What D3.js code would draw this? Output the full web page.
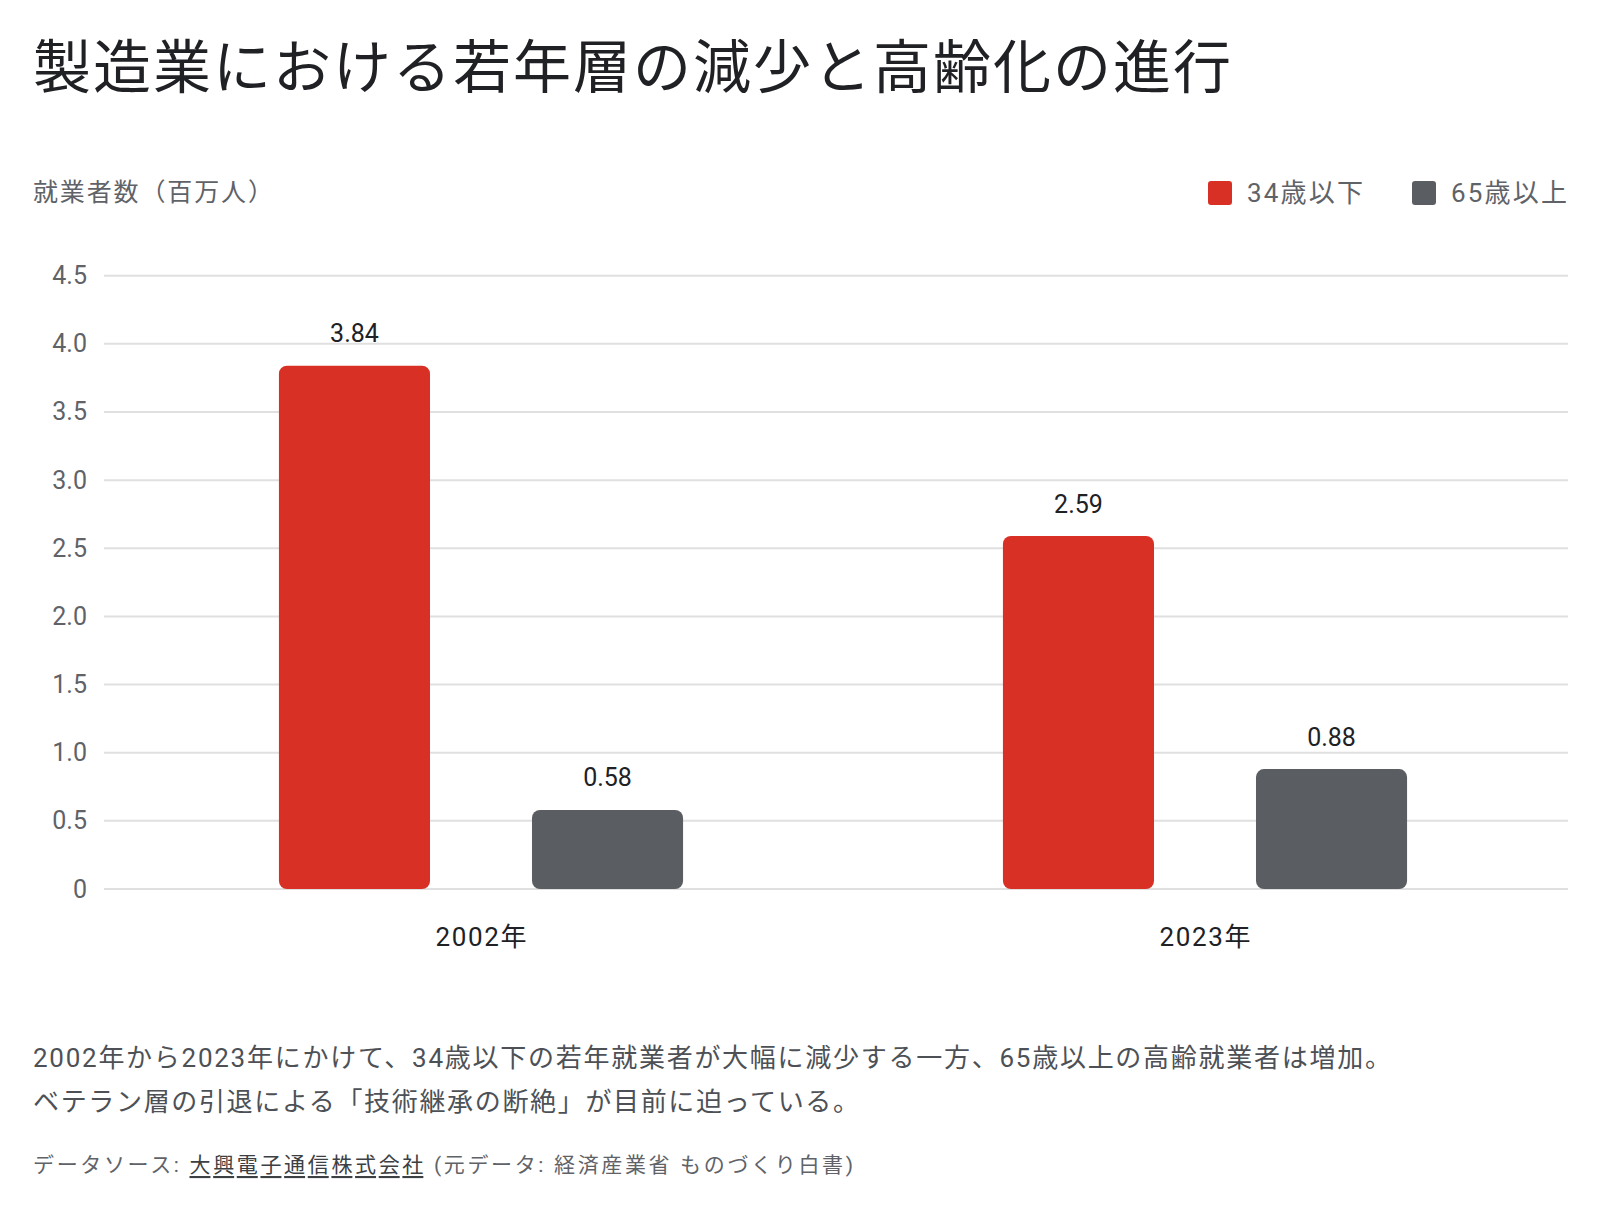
<!DOCTYPE html>
<html>
<head>
<meta charset="utf-8">
<script src="https://cdn.jsdelivr.net/npm/d3@7"></script>
<style>
  body { margin: 0; background: #fff; }
  svg text { font-family: Roboto, "Noto Sans CJK JP", sans-serif; }
</style>
</head>
<body>
<svg id="chart" width="1600" height="1214"></svg>
<script>
// data
const years = ["2002年", "2023年"];
const seriesNames = ["34歳以下", "65歳以上"];
const young = [3.84, 2.59];
const senior = [0.58, 0.88];
const yTicks = [0, 0.5, 1.0, 1.5, 2.0, 2.5, 3.0, 3.5, 4.0, 4.5];
const colors = ["#d93025", "#5a5d62"];

const rows = years.map((y, i) => ({ year: y, values: [young[i], senior[i]] }));

const svg = d3.select("#chart");

// title
svg.append("text")
    .attr("x", 33).attr("y", 68)
    .attr("dominant-baseline", "central")
    .attr("font-size", 58)
    .attr("textLength", 1198).attr("lengthAdjust", "spacing")
    .attr("fill", "#202124")
    .text("製造業における若年層の減少と高齢化の進行");

// axis title
svg.append("text")
    .attr("x", 33).attr("y", 192)
    .attr("dominant-baseline", "central")
    .attr("font-size", 25)
    .attr("textLength", 240).attr("lengthAdjust", "spacing")
    .attr("fill", "#5f6368")
    .text("就業者数（百万人）");

// scales
const yScale = d3.scaleLinear().domain([0, 4.5]).range([889, 275.7]);
const xScale = d3.scaleBand().domain(years).range([119, 1567]);
const subScale = d3.scaleBand().domain([0, 1]).range([0, xScale.bandwidth()])
    .paddingInner(0.403).paddingOuter(0.632);

// gridlines
svg.append("g").selectAll("line")
    .data(yTicks).join("line")
    .attr("x1", 104).attr("x2", 1568)
    .attr("y1", d => yScale(d)).attr("y2", d => yScale(d))
    .attr("stroke", "#e0e0e0").attr("stroke-width", 2);

// y axis labels
const yAxis = d3.axisLeft(yScale).tickValues(yTicks)
    .tickFormat(d => d === 0 ? "0" : d3.format(".1f")(d)).tickSize(0).tickPadding(0);
const yG = svg.append("g").attr("transform", "translate(87,0)").call(yAxis);
yG.select(".domain").remove();
yG.selectAll("text").attr("font-size", 25).attr("fill", "#5f6368")
    .attr("font-family", "Roboto, sans-serif");

// x axis labels
const xAxis = d3.axisBottom(xScale).tickSize(0).tickPadding(0);
const xG = svg.append("g").attr("transform", "translate(0,937)").call(xAxis);
xG.select(".domain").remove();
xG.selectAll("text").attr("font-size", 26).attr("fill", "#202124")
    .attr("dy", "0.35em").attr("font-family", null)
    .attr("textLength", 91).attr("lengthAdjust", "spacing");

// bars
const groups = svg.append("g").selectAll("g")
    .data(rows).join("g")
    .attr("transform", d => `translate(${xScale(d.year)},0)`);

groups.selectAll("rect")
    .data(d => d.values.map((v, i) => ({ v, i })))
    .join("rect")
    .attr("x", d => subScale(d.i))
    .attr("width", subScale.bandwidth())
    .attr("y", d => yScale(d.v))
    .attr("height", d => yScale(0) - yScale(d.v))
    .attr("rx", 8)
    .attr("fill", d => colors[d.i]);

groups.selectAll("text.val")
    .data(d => d.values.map((v, i) => ({ v, i })))
    .join("text")
    .attr("class", "val")
    .attr("x", d => subScale(d.i) + subScale.bandwidth() / 2)
    .attr("y", d => yScale(d.v) - 32)
    .attr("text-anchor", "middle")
    .attr("dominant-baseline", "central")
    .attr("font-size", 25)
    .attr("fill", "#202124")
    .text(d => d3.format(".2f")(d.v));

// legend
const legendX = [1208, 1412];
const legend = svg.append("g").selectAll("g")
    .data(seriesNames).join("g")
    .attr("transform", (d, i) => `translate(${legendX[i]},181)`);
legend.append("rect")
    .attr("width", 24).attr("height", 24).attr("rx", 3)
    .attr("fill", (d, i) => colors[i]);
legend.append("text")
    .attr("x", 39).attr("y", 12)
    .attr("dominant-baseline", "central")
    .attr("font-size", 26)
    .attr("textLength", 116).attr("lengthAdjust", "spacing")
    .attr("fill", "#5f6368")
    .text(d => d);

// description
const notes = [
    "2002年から2023年にかけて、34歳以下の若年就業者が大幅に減少する一方、65歳以上の高齢就業者は増加。",
    "ベテラン層の引退による「技術継承の断絶」が目前に迫っている。"
];
const noteLengths = [1358, 826];
svg.append("g").selectAll("text")
    .data(notes).join("text")
    .attr("x", 33).attr("y", (d, i) => 1058 + i * 44)
    .attr("dominant-baseline", "central")
    .attr("font-size", 26)
    .attr("textLength", (d, i) => noteLengths[i]).attr("lengthAdjust", "spacing")
    .attr("fill", "#4d5156")
    .text(d => d);

// source
const src = svg.append("text")
    .attr("x", 33).attr("y", 1165)
    .attr("dominant-baseline", "central")
    .attr("font-size", 21)
    .attr("textLength", 820).attr("lengthAdjust", "spacing")
    .attr("fill", "#5f6368");
src.append("tspan").text("データソース: ");
src.append("tspan").attr("text-decoration", "underline").attr("fill", "#3c4043").text("大興電子通信株式会社");
src.append("tspan").text(" (元データ: 経済産業省 ものづくり白書)");
</script>
</body>
</html>
